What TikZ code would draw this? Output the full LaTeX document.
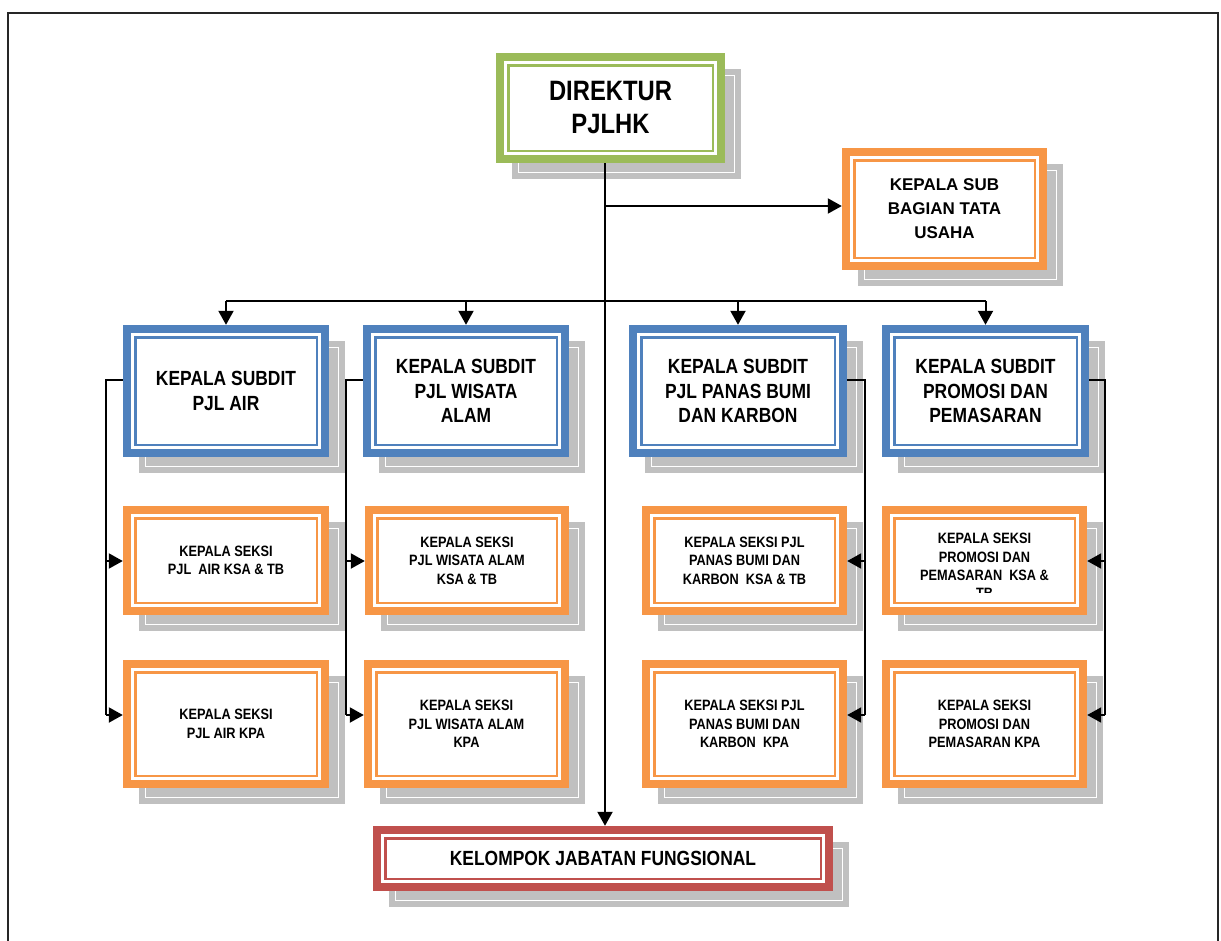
\documentclass[tikz,border=0pt]{standalone}
\usepackage{fontspec}
\setmainfont{Liberation Sans}
\newfontfamily\nar{Liberation Sans}[FakeStretch=0.85]
\usetikzlibrary{arrows.meta}
\definecolor{cgreen}{HTML}{9BBB59}
\definecolor{corange}{HTML}{F79646}
\definecolor{cblue}{HTML}{4F81BD}
\definecolor{cred}{HTML}{C0504D}
\definecolor{shadowc}{HTML}{C0C0C0}
\tikzset{
  orgbox/.style={fill=#1, inner sep=0pt, align=center, text=black,
    path picture={
      \fill[white] ([shift={(8pt,-8pt)}]path picture bounding box.north west) rectangle ([shift={(-8pt,8pt)}]path picture bounding box.south east);
      \draw[#1, line width=2.5pt] ([shift={(12.25pt,-12.25pt)}]path picture bounding box.north west) rectangle ([shift={(-12.25pt,12.25pt)}]path picture bounding box.south east);
    }},
  conn/.style={line width=2pt, black},
  arr/.style={conn, -{Triangle[length=14pt,width=15pt]}},
  tdir/.style={font=\nar\bfseries\fontsize{28}{33}\selectfont},
  ttu/.style={font=\bfseries\fontsize{17}{24}\selectfont},
  tone/.style={font=\nar\bfseries\fontsize{20.5}{24.5}\selectfont},
  ttwo/.style={font=\nar\bfseries\fontsize{15}{18.4}\selectfont},
}
\newcommand\OrgBox[8]{%
  \fill[shadowc] (#3+16,#4+16) rectangle (#5+16,#6+16);
  \draw[white,line width=1pt] (#3+22.5,#4+22.5) rectangle (#5+9.5,#6+9.5);
  \node[orgbox=#2, #7, minimum width={#5-#3}, minimum height={#6-#4}] (#1) at ({(#3+#5)/2},{(#4+#6)/2}) {#8};
}
\begin{document}
\begin{tikzpicture}[x=1pt,y=-1pt]
\useasboundingbox (0,0) rectangle (1221,940);
\fill[white] (0,0) rectangle (1221,940);
\draw[line width=1.6pt, black!85] (8,945) -- (8,13) -- (1218,13) -- (1218,945);

\OrgBox{dir}{cgreen}{496}{53}{725}{163}{tdir}{DIREKTUR\\PJLHK}
\OrgBox{tu}{corange}{842}{148}{1047}{270}{ttu}{KEPALA SUB\\BAGIAN TATA\\USAHA}

\OrgBox{air}{cblue}{123}{325}{329}{457}{tone}{KEPALA SUBDIT\\PJL AIR}
\OrgBox{wis}{cblue}{363}{325}{569}{457}{tone}{KEPALA SUBDIT\\PJL WISATA\\ALAM}
\OrgBox{pan}{cblue}{629}{325}{847}{457}{tone}{KEPALA SUBDIT\\PJL PANAS BUMI\\DAN KARBON}
\OrgBox{pro}{cblue}{882}{325}{1089}{457}{tone}{KEPALA SUBDIT\\PROMOSI DAN\\PEMASARAN}

\OrgBox{airA}{corange}{123}{506}{329}{615}{ttwo}{KEPALA SEKSI\\PJL\ \ AIR KSA \& TB}
\OrgBox{wisA}{corange}{365}{506}{569}{615}{ttwo}{KEPALA SEKSI\\PJL WISATA ALAM\\KSA \& TB}
\OrgBox{panA}{corange}{642}{506}{847}{615}{ttwo}{KEPALA SEKSI PJL\\PANAS BUMI DAN\\KARBON\ \ KSA \& TB}
\OrgBox{proA}{corange}{882}{506}{1087}{615}{ttwo}{}
\begin{scope}
  \clip (882,506) rectangle (1087,592);
  \node[ttwo, align=center, inner sep=0pt, anchor=north] (proAtext) at (984.5,533) {KEPALA SEKSI\\PROMOSI DAN\\PEMASARAN\ \ KSA \&\\TB};
\end{scope}

\OrgBox{airB}{corange}{123}{660}{329}{788}{ttwo}{KEPALA SEKSI\\PJL AIR KPA}
\OrgBox{wisB}{corange}{364}{660}{569}{788}{ttwo}{KEPALA SEKSI\\PJL WISATA ALAM\\KPA}
\OrgBox{panB}{corange}{642}{660}{847}{788}{ttwo}{KEPALA SEKSI PJL\\PANAS BUMI DAN\\KARBON\ \ KPA}
\OrgBox{proB}{corange}{882}{660}{1087}{788}{ttwo}{KEPALA SEKSI\\PROMOSI DAN\\PEMASARAN KPA}

\OrgBox{kjf}{cred}{373}{826}{833}{891}{tone}{KELOMPOK JABATAN FUNGSIONAL}

% connector reference coordinates
\coordinate (trunk) at (605,0);
\coordinate (tuy) at (0,206);
\coordinate (bus) at (0,301);
\coordinate (hl) at (0,380);
\coordinate (r2) at (0,561);
\coordinate (r3) at (0,715);
\coordinate (xa) at (106,0);
\coordinate (xw) at (346,0);
\coordinate (xp) at (865,0);
\coordinate (xr) at (1105,0);

\draw[arr] (dir.south -| trunk) -- (kjf.north -| trunk);
\draw[arr] (trunk |- tuy) -- (tu.west |- tuy);
\draw[conn] (air.north |- bus) -- (pro.north |- bus);
\draw[arr] (air.north |- bus) -- (air.north);
\draw[arr] (wis.north |- bus) -- (wis.north);
\draw[arr] (pan.north |- bus) -- (pan.north);
\draw[arr] (pro.north |- bus) -- (pro.north);

\draw[conn] (air.west |- hl) -| (xa |- r3);
\draw[arr] (xa |- r2) -- (airA.west |- r2);
\draw[arr] (xa |- r3) -- (airB.west |- r3);
\draw[conn] (wis.west |- hl) -| (xw |- r3);
\draw[arr] (xw |- r2) -- (wisA.west |- r2);
\draw[arr] (xw |- r3) -- (wisB.west |- r3);
\draw[conn] (pan.east |- hl) -| (xp |- r3);
\draw[arr] (xp |- r2) -- (panA.east |- r2);
\draw[arr] (xp |- r3) -- (panB.east |- r3);
\draw[conn] (pro.east |- hl) -| (xr |- r3);
\draw[arr] (xr |- r2) -- (proA.east |- r2);
\draw[arr] (xr |- r3) -- (proB.east |- r3);
\end{tikzpicture}
\end{document}
